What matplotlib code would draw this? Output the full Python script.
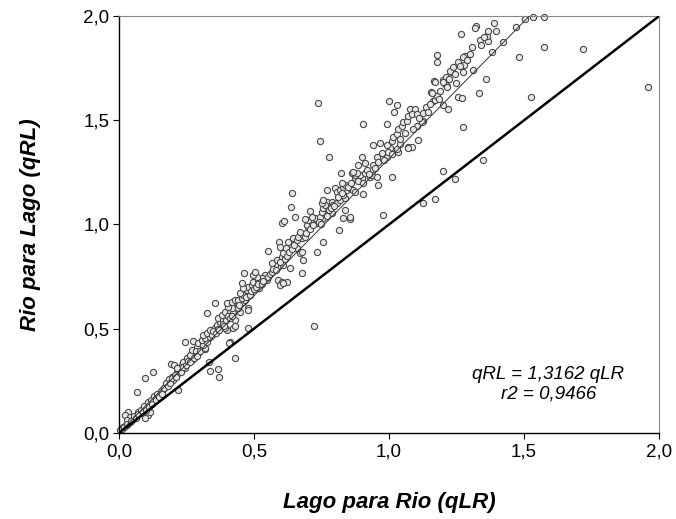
import matplotlib
matplotlib.use("Agg")
import matplotlib.pyplot as plt
from matplotlib.ticker import FuncFormatter

# points: Lago para Rio (qLR) vs Rio para Lago (qRL)
qLR = [
    0.004, 0.010, 0.016, 0.022, 0.028, 0.035, 0.041, 0.047, 0.053, 0.059,
    0.065, 0.071, 0.078, 0.084, 0.090, 0.096, 0.103, 0.109, 0.115, 0.121,
    0.127, 0.133, 0.140, 0.146, 0.152, 0.158, 0.164, 0.170, 0.177, 0.183,
    0.195, 0.201, 0.220, 0.065, 0.109, 0.096, 0.115, 0.035, 0.022, 0.041,
    0.028, 0.125, 0.096, 0.193, 0.205, 0.337, 0.368, 0.370, 0.333, 0.214,
    0.220, 0.226, 0.244, 0.232, 0.257, 0.238, 0.269, 0.251, 0.281, 0.263,
    0.294, 0.269, 0.306, 0.288, 0.244, 0.275, 0.294, 0.312, 0.325,
    0.012, 0.020, 0.030, 0.045, 0.055, 0.062, 0.070, 0.080, 0.088, 0.094,
    0.100, 0.106, 0.112, 0.118, 0.124, 0.130, 0.136, 0.142, 0.148, 0.155,
    0.160, 0.168, 0.174, 0.180, 0.186, 0.190, 0.198, 0.206, 0.210, 0.216,
    0.228, 0.236, 0.248, 0.254, 0.262, 0.276, 0.284, 0.290, 0.300, 0.312,
    0.318,
    0.319, 0.312, 0.325, 0.306, 0.319, 0.337, 0.312, 0.325, 0.337, 0.356,
    0.362, 0.374, 0.368, 0.386, 0.380, 0.327, 0.430, 0.423, 0.399, 0.393,
    0.479, 0.430, 0.723, 0.411, 0.407, 0.430, 0.393, 0.411, 0.423, 0.448,
    0.417, 0.405, 0.479, 0.436, 0.399, 0.417, 0.430, 0.356, 0.460, 0.479,
    0.442, 0.466, 0.454, 0.460, 0.448, 0.473, 0.479, 0.460, 0.454, 0.520,
    0.491, 0.497, 0.522, 0.547, 0.541, 0.516, 0.529, 0.510, 0.497, 0.504,
    0.464, 0.590, 0.603, 0.621, 0.596, 0.609, 0.677, 0.633, 0.590, 0.578,
    0.609, 0.566, 0.584, 0.603, 0.609, 0.553, 0.670, 0.683, 0.732, 0.677,
    0.658, 0.594, 0.627, 0.596, 0.620, 0.757,
    0.345, 0.350, 0.358, 0.366, 0.372, 0.384, 0.390, 0.396, 0.404, 0.412,
    0.420, 0.440, 0.446, 0.470, 0.484, 0.488, 0.500, 0.508, 0.514, 0.530,
    0.535, 0.552, 0.560, 0.566, 0.572, 0.580, 0.598, 0.614, 0.622, 0.630,
    0.640, 0.648,
    0.646, 0.658, 0.677, 0.664, 0.683, 0.670, 0.816, 0.701, 0.695, 0.714,
    0.732, 0.701, 0.689, 0.726, 0.714, 0.707, 0.757, 0.744, 0.763, 0.751,
    0.757, 0.652, 0.603, 0.611, 0.636, 0.640, 0.788, 0.831, 0.856, 0.837,
    0.856, 0.979, 0.769, 0.763, 0.751, 0.757, 0.788, 0.794, 0.806, 0.819,
    0.837, 0.831, 0.902, 0.769, 0.800, 0.806, 0.819, 0.843, 0.856, 0.868,
    0.874, 0.831, 0.837, 0.825, 0.960, 0.874, 0.899, 0.886, 0.893, 0.874,
    0.862, 0.880, 0.868, 0.911, 0.930, 0.936, 0.954, 1.010, 0.821, 0.886,
    0.911, 0.942, 0.899, 0.779, 0.954, 0.991, 0.973, 1.028, 1.034, 1.004,
    0.942, 0.967, 0.991, 1.071, 1.084, 0.744, 0.738, 0.902, 0.991, 1.001,
    0.688, 0.694, 0.708, 0.720, 0.740, 0.748, 0.770, 0.778, 0.784, 0.798,
    0.812, 0.826, 0.848, 0.860, 0.884, 0.905, 0.918, 0.926, 0.948, 0.960,
    0.980, 0.996, 1.012,
    1.010, 1.016, 1.028, 1.034, 1.047, 1.053, 1.065, 1.102, 1.127, 1.121,
    1.109, 1.071, 1.028, 1.041, 1.275, 1.031, 1.020, 1.078, 1.096, 1.071,
    1.084, 1.102, 1.127, 1.137, 1.220, 1.201, 1.164, 1.170, 1.177, 1.156,
    1.257, 1.269, 1.333, 1.527, 1.214, 1.207, 1.201, 1.211, 1.168, 1.248,
    1.358, 1.232, 1.226, 1.238, 1.275, 1.310, 1.279, 1.257, 1.177, 1.177,
    1.281, 1.275, 1.483, 1.380, 1.306, 1.423, 1.337, 1.266, 1.365, 1.362,
    1.365, 1.390, 1.322, 1.319, 1.470, 1.504, 1.532, 1.575, 1.170, 1.201,
    1.214, 1.158, 1.199, 1.244, 1.170, 1.127, 1.347, 1.572, 1.717, 1.958,
    1.040, 1.060, 1.090, 1.110, 1.145, 1.150, 1.185, 1.190, 1.222, 1.245,
    1.262, 1.290, 1.300, 1.340, 1.350, 1.395,
]
qRL = [
    0.014, 0.022, 0.027, 0.034, 0.038, 0.046, 0.054, 0.062, 0.070, 0.078,
    0.086, 0.102, 0.094, 0.102, 0.110, 0.118, 0.126, 0.134, 0.142, 0.150,
    0.158, 0.166, 0.174, 0.182, 0.190, 0.203, 0.209, 0.222, 0.230, 0.246,
    0.270, 0.254, 0.206, 0.198, 0.086, 0.070, 0.102, 0.102, 0.086, 0.078,
    0.062, 0.294, 0.262, 0.331, 0.326, 0.299, 0.305, 0.267, 0.342, 0.294,
    0.286, 0.302, 0.310, 0.326, 0.334, 0.342, 0.350, 0.358, 0.366, 0.374,
    0.382, 0.398, 0.406, 0.414, 0.438, 0.441, 0.433, 0.438, 0.441,
    0.018, 0.030, 0.044, 0.058, 0.080, 0.072, 0.090, 0.110, 0.098, 0.130,
    0.112, 0.146, 0.124, 0.160, 0.140, 0.178, 0.156, 0.188, 0.170, 0.200,
    0.186, 0.214, 0.240, 0.226, 0.258, 0.238, 0.262, 0.280, 0.266, 0.310,
    0.292, 0.318, 0.326, 0.346, 0.340, 0.358, 0.392, 0.370, 0.394, 0.420,
    0.404,
    0.406, 0.422, 0.438, 0.446, 0.454, 0.462, 0.470, 0.478, 0.494, 0.502,
    0.518, 0.534, 0.550, 0.542, 0.566, 0.577, 0.542, 0.502, 0.494, 0.502,
    0.505, 0.513, 0.513, 0.438, 0.430, 0.358, 0.582, 0.582, 0.574, 0.582,
    0.598, 0.606, 0.598, 0.622, 0.622, 0.630, 0.638, 0.622, 0.630, 0.590,
    0.638, 0.638, 0.646, 0.662, 0.670, 0.686, 0.699, 0.694, 0.718, 0.694,
    0.710, 0.726, 0.718, 0.734, 0.758, 0.734, 0.742, 0.750, 0.758, 0.774,
    0.769, 0.734, 0.726, 0.726, 0.710, 0.718, 0.766, 0.790, 0.798, 0.806,
    0.806, 0.814, 0.830, 0.846, 0.862, 0.874, 0.862, 0.830, 0.870, 0.870,
    0.886, 0.917, 0.917, 0.894, 0.886, 0.915,
    0.470, 0.488, 0.480, 0.500, 0.492, 0.520, 0.512, 0.540, 0.560, 0.552,
    0.560, 0.600, 0.612, 0.652, 0.660, 0.680, 0.690, 0.700, 0.712, 0.716,
    0.730, 0.746, 0.760, 0.770, 0.786, 0.780, 0.820, 0.834, 0.850, 0.868,
    0.880, 0.900,
    0.934, 0.926, 0.934, 0.942, 0.950, 0.966, 0.974, 0.986, 0.998, 1.006,
    1.006, 1.022, 1.025, 1.030, 1.037, 1.066, 1.030, 1.037, 1.050, 1.062,
    1.078, 1.034, 1.006, 1.018, 1.086, 1.153, 1.053, 1.030, 1.025, 1.070,
    1.038, 1.046, 1.110, 1.094, 1.101, 1.117, 1.110, 1.094, 1.101, 1.117,
    1.126, 1.141, 1.146, 1.165, 1.174, 1.158, 1.165, 1.165, 1.174, 1.165,
    1.158, 1.181, 1.189, 1.198, 1.189, 1.222, 1.222, 1.229, 1.237, 1.237,
    1.245, 1.245, 1.253, 1.245, 1.229, 1.237, 1.229, 1.229, 1.245, 1.285,
    1.296, 1.285, 1.325, 1.325, 1.325, 1.325, 1.341, 1.357, 1.349, 1.366,
    1.381, 1.389, 1.381, 1.370, 1.370, 1.402, 1.581, 1.481, 1.481, 1.594,
    0.940, 0.960, 0.980, 0.996, 1.010, 1.000, 1.040, 1.070, 1.080, 1.090,
    1.130, 1.150, 1.180, 1.200, 1.210, 1.200, 1.260, 1.240, 1.270, 1.300,
    1.310, 1.350, 1.340,
    1.402, 1.418, 1.434, 1.458, 1.474, 1.490, 1.498, 1.471, 1.498, 1.490,
    1.405, 1.367, 1.362, 1.386, 1.469, 1.573, 1.538, 1.554, 1.554, 1.522,
    1.530, 1.530, 1.533, 1.562, 1.554, 1.575, 1.591, 1.597, 1.618, 1.634,
    1.610, 1.607, 1.631, 1.613, 1.666, 1.674, 1.693, 1.706, 1.690, 1.677,
    1.696, 1.730, 1.738, 1.754, 1.730, 1.742, 1.766, 1.778, 1.778, 1.813,
    1.807, 1.802, 1.802, 1.826, 1.853, 1.875, 1.885, 1.914, 1.882, 1.904,
    1.928, 1.965, 1.952, 1.943, 1.949, 1.986, 1.994, 1.997, 1.685, 1.685,
    1.661, 1.632, 1.258, 1.217, 1.121, 1.105, 1.309, 1.853, 1.840, 1.659,
    1.410, 1.440, 1.460, 1.510, 1.540, 1.580, 1.600, 1.640, 1.700, 1.720,
    1.760, 1.790, 1.820, 1.860, 1.900, 1.930,
]

slope = 1.3162
ticks = [0.0, 0.5, 1.0, 1.5, 2.0]

plt.rcParams["font.family"] = ["Liberation Sans", "DejaVu Sans"]

fig = plt.figure(figsize=(6.76, 5.19), dpi=100)
ax = fig.add_axes([0.176, 0.166, 0.799, 0.803])

ax.scatter(qLR, qRL, s=20, facecolor="#e8e8e8", edgecolor="#484848",
           linewidth=0.8, zorder=2, clip_on=False)

# fitted line qRL = 1.3162 qLR, up to the top of the frame
ax.plot([0, 2.0 / slope], [0, 2.0], color="#333333", lw=0.7, zorder=3)
# 1:1 line
ax.plot([0, 2], [0, 2], color="black", lw=1.8, zorder=3)

ax.set_xlim(0, 2)
ax.set_ylim(0, 2)
ax.set_xticks(ticks)
ax.set_yticks(ticks)
fmt = FuncFormatter(lambda v, p: f"{v:.1f}".replace(".", ","))
ax.xaxis.set_major_formatter(fmt)
ax.yaxis.set_major_formatter(fmt)
ax.tick_params(direction="out", length=4, width=0.8, labelsize=13.5)
ax.tick_params(axis="x", pad=4)
ax.tick_params(axis="y", pad=3)

for side in ["top", "right"]:
    ax.spines[side].set_color("#888888")
    ax.spines[side].set_linewidth(0.8)
for side in ["left", "bottom"]:
    ax.spines[side].set_color("black")
    ax.spines[side].set_linewidth(1.0)

ax.set_xlabel("Lago para Rio (qLR)", fontsize=16, fontweight="bold",
              fontstyle="italic", labelpad=22)
ax.set_ylabel("Rio para Lago (qRL)", fontsize=16, fontweight="bold",
              fontstyle="italic", labelpad=30)

ax.text(1.59, 0.235, "qRL = 1,3162 qLR\nr2 = 0,9466", fontsize=13.5,
        fontstyle="italic", ha="center", va="center", linespacing=1.2)

fig.savefig("out.png", dpi=100)
